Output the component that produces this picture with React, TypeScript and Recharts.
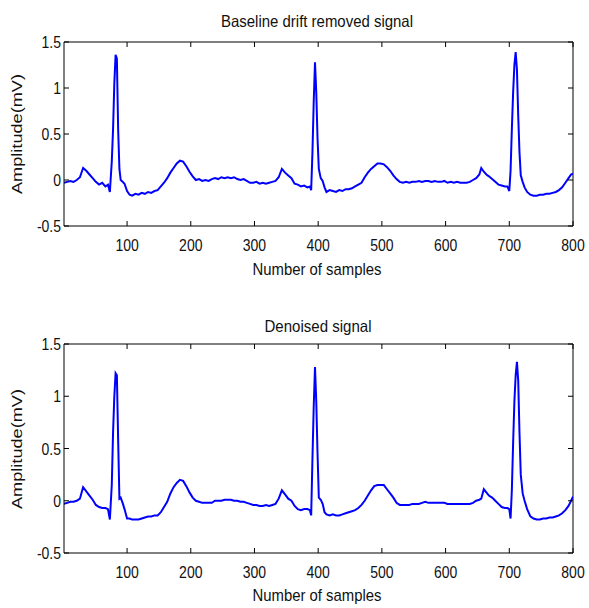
import React from 'react';
import { LineChart, Line, XAxis, YAxis, ReferenceLine } from 'recharts';

const samples = [
  1, 6, 11, 16, 21, 26, 31, 36, 41, 46, 51, 56, 61, 66, 70, 73, 76, 78, 80, 82, 84, 86, 88, 90, 93, 96, 100, 104, 108,
  113, 118, 123, 128, 133, 138, 143, 148, 153, 158, 163, 168, 173, 178, 183, 188, 193, 198, 203, 208, 213, 218, 223,
  228, 233, 238, 243, 248, 253, 258, 263, 268, 273, 278, 283, 288, 293, 298, 303, 308, 313, 318, 323, 328, 333, 338,
  343, 348, 353, 358, 363, 368, 373, 378, 383, 387, 389, 391, 393, 395, 397, 399, 401, 404, 407, 410, 413, 418, 423,
  428, 433, 438, 443, 448, 453, 458, 463, 468, 473, 478, 483, 488, 493, 498, 503, 508, 513, 518, 523, 528, 533, 538,
  543, 548, 553, 558, 563, 568, 573, 578, 583, 588, 593, 598, 603, 608, 613, 618, 623, 628, 633, 638, 643, 648, 653,
  656, 660, 664, 668, 673, 678, 683, 688, 693, 697, 700, 702, 704, 706, 708, 710, 712, 714, 716, 718, 721, 724, 728,
  733, 738, 743, 748, 753, 758, 763, 768, 773, 778, 783, 788, 793, 797, 800,
];

const driftRemoved = [
  -0.03, -0.02, -0.01, -0.02, 0.0, 0.03, 0.13, 0.1, 0.06, 0.02, -0.02, -0.05, -0.03, -0.07, -0.05, -0.13, 0.2, 0.55,
  1.05, 1.36, 1.32, 0.55, 0.12, 0.0, -0.02, -0.04, -0.12, -0.16, -0.17, -0.15, -0.16, -0.14, -0.15, -0.13, -0.14,
  -0.12, -0.11, -0.07, -0.03, 0.02, 0.08, 0.13, 0.18, 0.21, 0.2, 0.15, 0.09, 0.04, 0.0, 0.01, -0.01, 0.0, -0.01, 0.01,
  0.02, 0.01, 0.03, 0.02, 0.03, 0.02, 0.03, 0.01, 0.0, 0.01, -0.01, -0.03, -0.03, -0.02, -0.04, -0.03, -0.04, -0.03,
  -0.02, -0.01, 0.03, 0.12, 0.08, 0.05, 0.02, -0.04, -0.05, -0.07, -0.06, -0.08, -0.07, -0.11, 0.3, 0.85, 1.28, 0.95,
  0.45, 0.12, 0.02, -0.01, -0.08, -0.13, -0.11, -0.12, -0.13, -0.11, -0.12, -0.1, -0.1, -0.09, -0.07, -0.05, -0.03,
  0.03, 0.08, 0.12, 0.15, 0.18, 0.18, 0.17, 0.14, 0.1, 0.05, 0.01, -0.02, -0.03, -0.02, -0.03, -0.02, -0.02, -0.01,
  -0.02, -0.01, -0.01, -0.02, -0.01, -0.02, -0.02, -0.01, -0.03, -0.02, -0.03, -0.02, -0.03, -0.03, -0.03, -0.02, 0.0,
  0.02, 0.06, 0.13, 0.09, 0.06, 0.04, 0.01, -0.02, -0.05, -0.06, -0.07, -0.07, -0.12, 0.1, 0.55, 0.95, 1.25, 1.39,
  1.2, 0.7, 0.3, 0.05, -0.02, -0.08, -0.13, -0.16, -0.17, -0.17, -0.16, -0.16, -0.15, -0.15, -0.14, -0.13, -0.11,
  -0.08, -0.03, 0.02, 0.06, 0.07,
];

const denoised = [
  -0.03, -0.02, -0.01, -0.01, 0.0, 0.02, 0.13, 0.09, 0.05, 0.01, -0.04, -0.06, -0.07, -0.07, -0.08, -0.18, 0.15, 0.65,
  1.0, 1.22, 1.2, 0.58, 0.02, 0.03, -0.02, -0.08, -0.17, -0.17, -0.18, -0.18, -0.18, -0.17, -0.16, -0.15, -0.15,
  -0.14, -0.14, -0.11, -0.06, -0.01, 0.07, 0.13, 0.17, 0.2, 0.19, 0.14, 0.08, 0.03, 0.0, -0.01, -0.02, -0.02, -0.02,
  -0.02, 0.0, 0.0, 0.0, 0.01, 0.01, 0.01, 0.0, 0.0, -0.01, -0.01, -0.02, -0.03, -0.04, -0.04, -0.05, -0.05, -0.04,
  -0.05, -0.04, -0.03, 0.02, 0.1, 0.06, 0.02, 0.0, -0.05, -0.08, -0.09, -0.08, -0.08, -0.09, -0.14, 0.4, 0.9, 1.28,
  0.95, 0.45, 0.03, 0.01, -0.03, -0.11, -0.13, -0.14, -0.13, -0.14, -0.14, -0.13, -0.12, -0.11, -0.1, -0.09, -0.07,
  -0.04, 0.0, 0.05, 0.1, 0.14, 0.15, 0.15, 0.15, 0.11, 0.07, 0.03, -0.02, -0.04, -0.04, -0.04, -0.04, -0.03, -0.03,
  -0.03, -0.02, -0.01, -0.02, -0.02, -0.02, -0.02, -0.02, -0.02, -0.03, -0.03, -0.03, -0.03, -0.03, -0.03, -0.03,
  -0.03, -0.02, 0.0, 0.01, 0.02, 0.11, 0.08, 0.05, 0.03, 0.0, -0.03, -0.06, -0.07, -0.07, -0.08, -0.17, 0.1, 0.55,
  0.95, 1.2, 1.33, 1.15, 0.65, 0.25, 0.07, 0.0, -0.08, -0.15, -0.17, -0.18, -0.18, -0.17, -0.17, -0.16, -0.16, -0.15,
  -0.14, -0.12, -0.09, -0.05, 0.0, 0.04, 0.06,
];

const xTicks = [100, 200, 300, 400, 500, 600, 700, 800];
const yTicks = [-0.5, 0, 0.5, 1, 1.5];

const topTitle = 'Baseline drift removed signal';
const bottomTitle = 'Denoised signal';
const xLabel = 'Number of samples';
const yLabel = 'Amplitude(mV)';

const rowsTop = samples.map((s, i) => ({ x: s, y: driftRemoved[i] }));
const rowsBottom = samples.map((s, i) => ({ x: s, y: denoised[i] }));

const FONT = '"Liberation Sans", Arial, sans-serif';

const makeXTick = (plotTop: number) => (props: any) => {
  const { x, y, payload } = props;
  return (
    <g>
      <line x1={x} y1={y} x2={x} y2={y - 5} stroke="#000" strokeWidth={1} />
      <line x1={x} y1={plotTop} x2={x} y2={plotTop + 5} stroke="#000" strokeWidth={1} />
      <text
        transform={`translate(${x},${y + 25}) scale(1,1.2)`}
        textAnchor="middle"
        fontSize={14}
        fontFamily={FONT}
        fill="#111"
      >
        {payload.value}
      </text>
    </g>
  );
};

const makeYTick = (plotRight: number) => (props: any) => {
  const { x, y, payload } = props;
  return (
    <g>
      <line x1={x} y1={y} x2={x + 5} y2={y} stroke="#000" strokeWidth={1} />
      <line x1={plotRight} y1={y} x2={plotRight - 5} y2={y} stroke="#000" strokeWidth={1} />
      <text
        transform={`translate(${x - 3},${y + 6}) scale(1,1.2)`}
        textAnchor="end"
        fontSize={14}
        fontFamily={FONT}
        fill="#111"
      >
        {payload.value}
      </text>
    </g>
  );
};

type PanelProps = {
  rows: { x: number; y: number }[];
  height: number;
  top: number;
  bottom: number;
};

const PLOT_LEFT = 64;
const PLOT_RIGHT = 573;
const WIDTH = 589;

function Panel({ rows, height, top, bottom }: PanelProps) {
  return (
    <LineChart
      width={WIDTH}
      height={height}
      data={rows}
      margin={{ top, right: WIDTH - PLOT_RIGHT, bottom: 0, left: 0 }}
    >
      <XAxis
        dataKey="x"
        type="number"
        domain={[1, 800]}
        ticks={xTicks}
        allowDataOverflow
        height={height - bottom}
        tickSize={0}
        tickMargin={0}
        tickLine={false}
        axisLine={{ stroke: '#000', strokeWidth: 1 }}
        tick={makeXTick(top)}
        interval={0}
      />
      <YAxis
        type="number"
        domain={[-0.5, 1.5]}
        ticks={yTicks}
        allowDataOverflow
        width={PLOT_LEFT}
        tickSize={0}
        tickMargin={0}
        tickLine={false}
        axisLine={{ stroke: '#000', strokeWidth: 1 }}
        tick={makeYTick(PLOT_RIGHT)}
        interval={0}
      />
      <ReferenceLine y={1.5} stroke="#000" strokeWidth={1} ifOverflow="visible" />
      <ReferenceLine x={800} stroke="#000" strokeWidth={1} ifOverflow="visible" />
      <Line
        dataKey="y"
        type="linear"
        stroke="#0000FF"
        strokeWidth={2}
        dot={false}
        isAnimationActive={false}
      />
    </LineChart>
  );
}

export default function App() {
  return (
    <div style={{ position: 'absolute', left: 0, top: 0, width: 589, height: 608, background: '#fff' }}>
      <div style={{ position: 'absolute', left: 0, top: 0 }}>
        <Panel rows={rowsTop} height={290} top={42} bottom={226} />
      </div>
      <div style={{ position: 'absolute', left: 0, top: 300 }}>
        <Panel rows={rowsBottom} height={308} top={44} bottom={253} />
      </div>
      <svg
        width={589}
        height={608}
        style={{ position: 'absolute', left: 0, top: 0, pointerEvents: 'none' }}
        fontFamily={FONT}
        fill="#111"
      >
        <text x={317} y={27} textAnchor="middle" fontSize={16.5} textLength={192} lengthAdjust="spacingAndGlyphs">
          {topTitle}
        </text>
        <text x={317} y={275} textAnchor="middle" fontSize={17} textLength={129} lengthAdjust="spacingAndGlyphs">
          {xLabel}
        </text>
        <text
          transform="translate(22,134) rotate(-90)"
          textAnchor="middle"
          fontSize={15}
          textLength={120}
          lengthAdjust="spacingAndGlyphs"
        >
          {yLabel}
        </text>
        <text x={318} y={332} textAnchor="middle" fontSize={16.5} textLength={107} lengthAdjust="spacingAndGlyphs">
          {bottomTitle}
        </text>
        <text x={317} y={601} textAnchor="middle" fontSize={17} textLength={129} lengthAdjust="spacingAndGlyphs">
          {xLabel}
        </text>
        <text
          transform="translate(22,449) rotate(-90)"
          textAnchor="middle"
          fontSize={15}
          textLength={120}
          lengthAdjust="spacingAndGlyphs"
        >
          {yLabel}
        </text>
      </svg>
    </div>
  );
}
